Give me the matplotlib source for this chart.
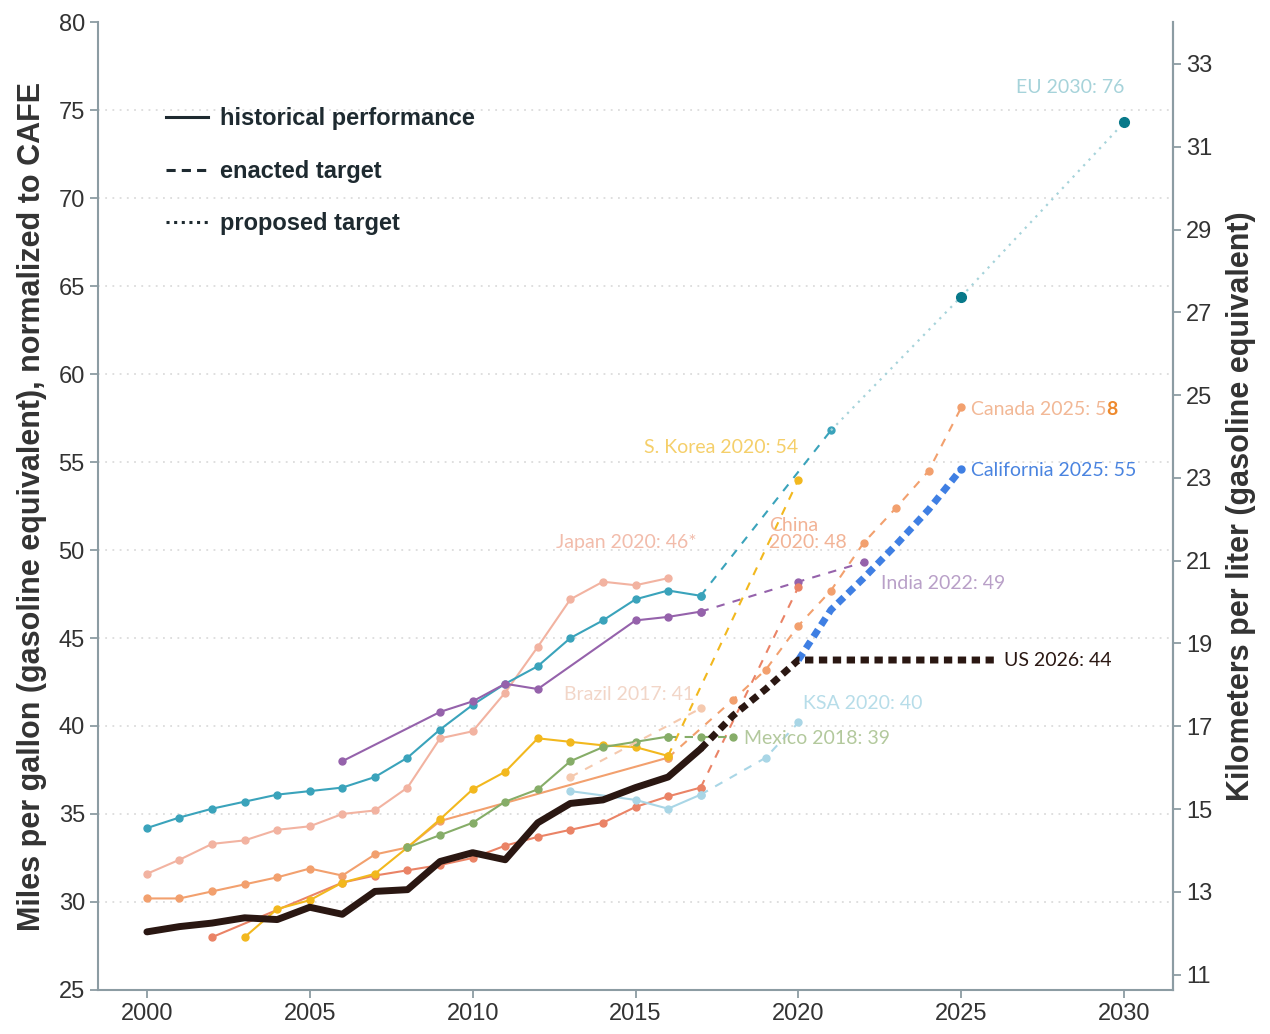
import matplotlib
matplotlib.use("Agg")
import matplotlib.pyplot as plt
from matplotlib.lines import Line2D

# ---- data (mpg, normalized to CAFE) ----
us_years = list(range(2000, 2018))
us_hist = [28.3, 28.6, 28.8, 29.1, 29.0, 29.7, 29.3, 30.6, 30.7, 32.3, 32.8, 32.4,
           34.5, 35.6, 35.8, 36.5, 37.1, 38.7]
us_tgt_years = [2017, 2018, 2019, 2020, 2026]
us_tgt = [38.7, 40.6, 42.1, 43.75, 43.75]

ca_years = [2020, 2021, 2022, 2023, 2024, 2025]
ca_tgt = [43.75, 46.6, 48.4, 50.3, 52.3, 54.6]

eu_years = list(range(2000, 2018))
eu_hist = [34.2, 34.8, 35.3, 35.7, 36.1, 36.3, 36.5, 37.1, 38.2, 39.8, 41.2, 42.4,
           43.4, 45.0, 46.0, 47.2, 47.7, 47.4]
eu_tgt_years = [2017, 2021]
eu_tgt = [47.4, 56.8]
eu_prop_years = [2021, 2025, 2030]
eu_prop = [56.8, 64.4, 74.3]

jp_years = list(range(2000, 2017))
jp_hist = [31.6, 32.4, 33.3, 33.5, 34.1, 34.3, 35.0, 35.2, 36.5, 39.3, 39.7, 41.9,
           44.5, 47.2, 48.2, 48.0, 48.4]

in_years = [2006, 2009, 2010, 2011, 2012, 2015, 2016, 2017]
in_hist = [38.0, 40.8, 41.4, 42.4, 42.1, 46.0, 46.2, 46.5]
in_tgt_years = [2017, 2020, 2022]
in_tgt = [46.5, 48.2, 49.3]

cn_years = [2000, 2001, 2002, 2003, 2004, 2005, 2006, 2007, 2008, 2009, 2016]
cn_hist = [30.2, 30.2, 30.6, 31.0, 31.4, 31.9, 31.5, 32.7, 33.1, 34.6, 38.2]
cn_tgt_years = [2016, 2018, 2019, 2020, 2021, 2022, 2023, 2024, 2025]
cn_tgt = [38.2, 41.5, 43.2, 45.7, 47.7, 50.4, 52.4, 54.5, 58.1]

ch_years = [2002, 2006, 2007, 2008, 2009, 2010, 2011, 2012, 2013, 2014, 2015, 2016, 2017]
ch_hist = [28.0, 31.1, 31.5, 31.8, 32.1, 32.5, 33.2, 33.7, 34.1, 34.5, 35.4, 36.0, 36.5]
ch_tgt_years = [2017, 2020]
ch_tgt = [36.5, 47.9]

kr_years = list(range(2003, 2017))
kr_hist = [28.0, 29.6, 30.1, 31.1, 31.6, 33.1, 34.7, 36.4, 37.4, 39.3, 39.1, 38.9,
           38.8, 38.3]
kr_tgt_years = [2016, 2020]
kr_tgt = [38.3, 54.0]

mx_years = list(range(2008, 2017))
mx_hist = [33.1, 33.8, 34.5, 35.7, 36.4, 38.0, 38.8, 39.1, 39.4]
mx_tgt_years = [2016, 2017, 2018]
mx_tgt = [39.4, 39.4, 39.4]

br_tgt_years = [2013, 2017]
br_tgt = [37.1, 41.0]

sa_years = [2013, 2015, 2016, 2017]
sa_hist = [36.3, 35.8, 35.3, 36.1]
sa_tgt_years = [2017, 2019, 2020]
sa_tgt = [36.1, 38.2, 40.2]

# colours
c_us = "#2a1712"
c_cal = "#3f7fe3"
c_eu = "#3aa3bb"
c_eu_dark = "#08798a"
c_eu_light = "#a6d3da"
c_jp = "#f2b3a1"
c_in = "#9562ab"
c_cn = "#f2a06e"
c_ch = "#ea8366"
c_kr = "#f2b81e"
c_mx = "#86ad68"
c_br = "#f5c9ae"
c_sa = "#a9d6e6"

fig = plt.figure(figsize=(12.7, 10.34), dpi=100)
ax = fig.add_axes([0.0772, 0.0426, 0.8464, 0.936])

tick_font = ["Liberation Sans", "DejaVu Sans"]
lab_font = ["Lato", "DejaVu Sans"]

for y in range(30, 80, 5):
    ax.axhline(y, color="#dcdcdc", lw=1.3, ls=(0, (1, 3)), zorder=0)

hist_kw = dict(lw=1.5, marker="o", ms=5)
dash_kw = dict(lw=1.5, ls=(0, (4, 4)), marker="o", ms=5)

ax.plot(jp_years, jp_hist, color=c_jp, **hist_kw)
ax.plot(eu_years, eu_hist, color=c_eu, **hist_kw)
ax.plot(eu_tgt_years, eu_tgt, color=c_eu, **dash_kw)
ax.plot(eu_prop_years, eu_prop, color=c_eu_light, lw=1.6, ls=(0, (1, 2.5)))
ax.plot(eu_prop_years[1:], eu_prop[1:], "o", color=c_eu_dark, ms=7)
ax.plot(in_years, in_hist, color=c_in, **hist_kw)
ax.plot(in_tgt_years, in_tgt, color=c_in, **dash_kw)
ax.plot(cn_years, cn_hist, color=c_cn, **hist_kw)
ax.plot(cn_tgt_years, cn_tgt, color=c_cn, **dash_kw)
ax.plot(ch_years, ch_hist, color=c_ch, **hist_kw)
ax.plot(ch_tgt_years, ch_tgt, color=c_ch, **dash_kw)
ax.plot(kr_years, kr_hist, color=c_kr, **hist_kw)
ax.plot(kr_tgt_years, kr_tgt, color=c_kr, **dash_kw)
ax.plot(mx_years, mx_hist, color=c_mx, **hist_kw)
ax.plot(mx_tgt_years, mx_tgt, color=c_mx, **dash_kw)
ax.plot(br_tgt_years, br_tgt, color=c_br, **dash_kw)
ax.plot(sa_years, sa_hist, color=c_sa, **hist_kw)
ax.plot(sa_tgt_years, sa_tgt, color=c_sa, **dash_kw)

ax.plot(ca_years, ca_tgt, color=c_cal, lw=5, ls=(0, (1.2, 0.8)), zorder=5)
ax.plot(ca_years[-1:], ca_tgt[-1:], "o", color=c_cal, ms=5, zorder=5)
ax.plot(us_years, us_hist, color=c_us, lw=5, solid_capstyle="round", zorder=6)
ax.plot(us_tgt_years, us_tgt, color=c_us, lw=5, ls=(0, (1.2, 0.8)), zorder=6)

# labels
lbl = dict(fontsize=14, family=lab_font)
ax.text(2030, 76.3, "EU 2030: 76", color=c_eu_light, ha="right", va="center", **lbl)
t = ax.text(2025.3, 58.0, "Canada 2025: 5", color="#f2b896", ha="left", va="center", **lbl)
ax.annotate("8", xycoords=t, xy=(1, 0), va="bottom", color="#ee8a2e",
            fontweight="bold", **lbl)
ax.text(2025.3, 54.5, "California 2025: 55", color="#4a84e0", ha="left", va="center", **lbl)
ax.text(2020, 55.8, "S. Korea 2020: 54", color="#f5cf6a", ha="right", va="center", **lbl)
ax.text(2012.55, 50.4, "Japan 2020: 46*", color="#f2bcab", ha="left", va="center", **lbl)
ax.text(2019.1, 50.9, "China\n2020: 48", color="#f2b396", ha="left", va="center",
        linespacing=1.0, **lbl)
ax.text(2022.55, 48.1, "India 2022: 49", color="#b9a0c8", ha="left", va="center", **lbl)
ax.text(2012.8, 41.8, "Brazil 2017: 41", color="#f2d6c8", ha="left", va="center", **lbl)
ax.text(2020.15, 41.3, "KSA 2020: 40", color="#b7dde9", ha="left", va="center", **lbl)
ax.text(2018.33, 39.3, "Mexico 2018: 39", color="#b3c99d", ha="left", va="center", **lbl)
ax.text(2026.3, 43.75, "US 2026: 44", color=c_us, ha="left", va="center", **lbl)

# legend
handles = [Line2D([], [], color="#1e2a30", lw=2.2),
           Line2D([], [], color="#1e2a30", lw=2.2, ls=(0, (3, 2))),
           Line2D([], [], color="#1e2a30", lw=2.2, ls=(0, (1, 1.5)))]
ax.legend(handles, ["historical performance", "enacted target", "proposed target"],
          loc="upper left", bbox_to_anchor=(0.043, 0.934), frameon=False,
          prop=dict(family=tick_font, size=17, weight="bold"),
          labelspacing=1.25, handlelength=1.8, handletextpad=0.5,
          labelcolor="#1e2a30")

ax.set_xlim(1998.5, 2031.5)
ax.set_ylim(25, 80)
ax.set_xticks(range(2000, 2031, 5))
ax.set_yticks(range(25, 81, 5))

spine_c = "#8c9ca3"
for s in ["left", "right", "bottom"]:
    ax.spines[s].set_color(spine_c)
    ax.spines[s].set_linewidth(1.5)
ax.spines["top"].set_visible(False)
ax.tick_params(colors=spine_c, labelcolor="#333333", length=6, width=1.3,
               labelsize=17)
for lab in ax.get_xticklabels() + ax.get_yticklabels():
    lab.set_family(tick_font)

ax.set_ylabel("Miles per gallon (gasoline equivalent), normalized to CAFE",
              fontsize=22, fontweight="bold", color="#333333",
              family=tick_font, labelpad=8)

sec = ax.secondary_yaxis("right", functions=(lambda m: m * 0.425144,
                                             lambda k: k / 0.425144))
sec.set_yticks(range(11, 34, 2))
sec.spines["right"].set_color(spine_c)
sec.spines["right"].set_linewidth(1.5)
sec.tick_params(colors=spine_c, labelcolor="#333333", length=6, width=1.3,
                labelsize=17)
for lab in sec.get_yticklabels():
    lab.set_family(tick_font)
sec.set_ylabel("Kilometers per liter (gasoline equivalent)", fontsize=22,
               fontweight="bold", color="#333333", family=tick_font, labelpad=10)

fig.savefig("out.png", dpi=100)
